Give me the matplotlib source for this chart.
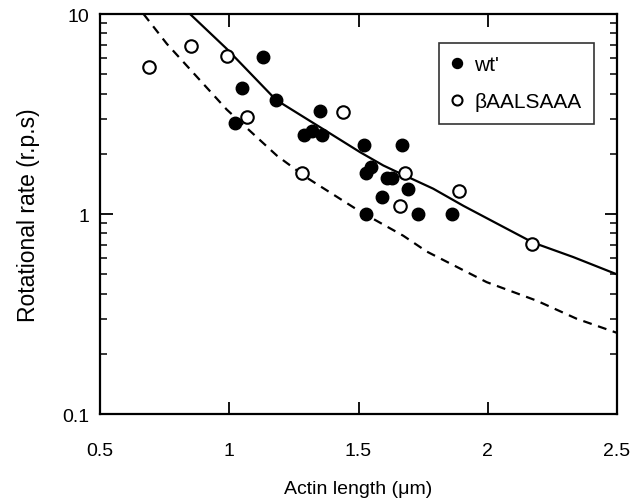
"""Rotational rate vs actin length (log y), wt' and betaAALSAAA."""

import matplotlib

matplotlib.use("Agg")
matplotlib.rcParams["font.family"] = ["Liberation Sans", "DejaVu Sans"]
import matplotlib.pyplot as plt
from matplotlib.ticker import FixedLocator, LogLocator, NullFormatter

# data
wt_len = [1.02, 1.05, 1.13, 1.18, 1.29, 1.32, 1.35, 1.36, 1.52, 1.67,
          1.53, 1.55, 1.61, 1.63, 1.69, 1.59, 1.53, 1.73, 1.86]
wt_rate = [2.85, 4.27, 6.1, 3.71, 2.5, 2.6, 3.26, 2.5, 2.22, 2.22,
           1.6, 1.72, 1.52, 1.52, 1.33, 1.22, 1.0, 1.0, 1.0]

mut_len = [0.69, 0.85, 0.99, 1.07, 1.28, 1.44, 1.66, 1.68, 1.89, 2.17]
mut_rate = [5.42, 6.96, 6.16, 3.06, 1.61, 3.24, 1.1, 1.6, 1.31, 0.71]

solid_len = [0.848, 0.99, 1.18, 1.345, 1.506, 1.596, 1.66, 1.789, 1.906,
             2.048, 2.176, 2.331, 2.5]
solid_rate = [10.0, 6.7, 3.73, 2.75, 2.04, 1.75, 1.6, 1.34, 1.1,
              0.88, 0.72, 0.61, 0.5]

dash_len = [0.668, 0.758, 0.99, 1.184, 1.30, 1.506, 1.673, 1.764, 1.996,
            2.19, 2.344, 2.5]
dash_rate = [10.0, 7.1, 3.33, 1.96, 1.52, 1.03, 0.78, 0.65, 0.457,
             0.369, 0.30, 0.255]

fig = plt.figure(figsize=(6.34, 5.02), dpi=100)
ax = fig.add_axes([0.158, 0.173, 0.815, 0.797])

ax.plot(solid_len, solid_rate, "-", color="black", lw=1.6)
ax.plot(dash_len, dash_rate, color="black", lw=1.6, linestyle=(0, (4, 3)))

ax.plot(wt_len, wt_rate, "o", color="black", ms=9, ls="none", label="wt'")
ax.plot(mut_len, mut_rate, "o", mfc="white", mec="black", mew=1.5, ms=9,
        ls="none", label="\u03b2AALSAAA")

ax.set_yscale("log")
ax.set_xlim(0.5, 2.5)
ax.set_ylim(0.1, 10)

ax.set_xticks([0.5, 1, 1.5, 2, 2.5])
ax.set_xticklabels(["0.5", "1", "1.5", "2", "2.5"])
ax.yaxis.set_major_locator(FixedLocator([0.1, 1, 10]))
ax.set_yticklabels(["0.1", "1", "10"])
ax.yaxis.set_minor_locator(LogLocator(base=10, subs=range(2, 10)))
ax.yaxis.set_minor_formatter(NullFormatter())

ax.tick_params(axis="both", which="major", direction="in", length=9,
               width=1.3, top=True, right=True, labelsize=14)
ax.tick_params(axis="y", which="minor", direction="in", length=5,
               width=1.1, right=True)
ax.tick_params(axis="x", which="major", pad=20)
ax.tick_params(axis="y", which="major", pad=8)

for sp in ax.spines.values():
    sp.set_linewidth(1.6)

ax.set_xlabel("Actin length (\u03bcm)", fontsize=14, labelpad=15)
ax.set_ylabel("Rotational rate (r.p.s)", fontsize=16.5, labelpad=16)

leg = ax.legend(loc="upper right", bbox_to_anchor=(0.955, 0.928),
                fontsize=15, frameon=True, fancybox=False,
                markerscale=0.8, handlelength=0.6, handletextpad=0.5,
                borderpad=0.6, labelspacing=0.85, borderaxespad=0.0)
leg.get_frame().set_edgecolor("black")
leg.get_frame().set_linewidth(1.2)

fig.savefig("out.png", dpi=100)
